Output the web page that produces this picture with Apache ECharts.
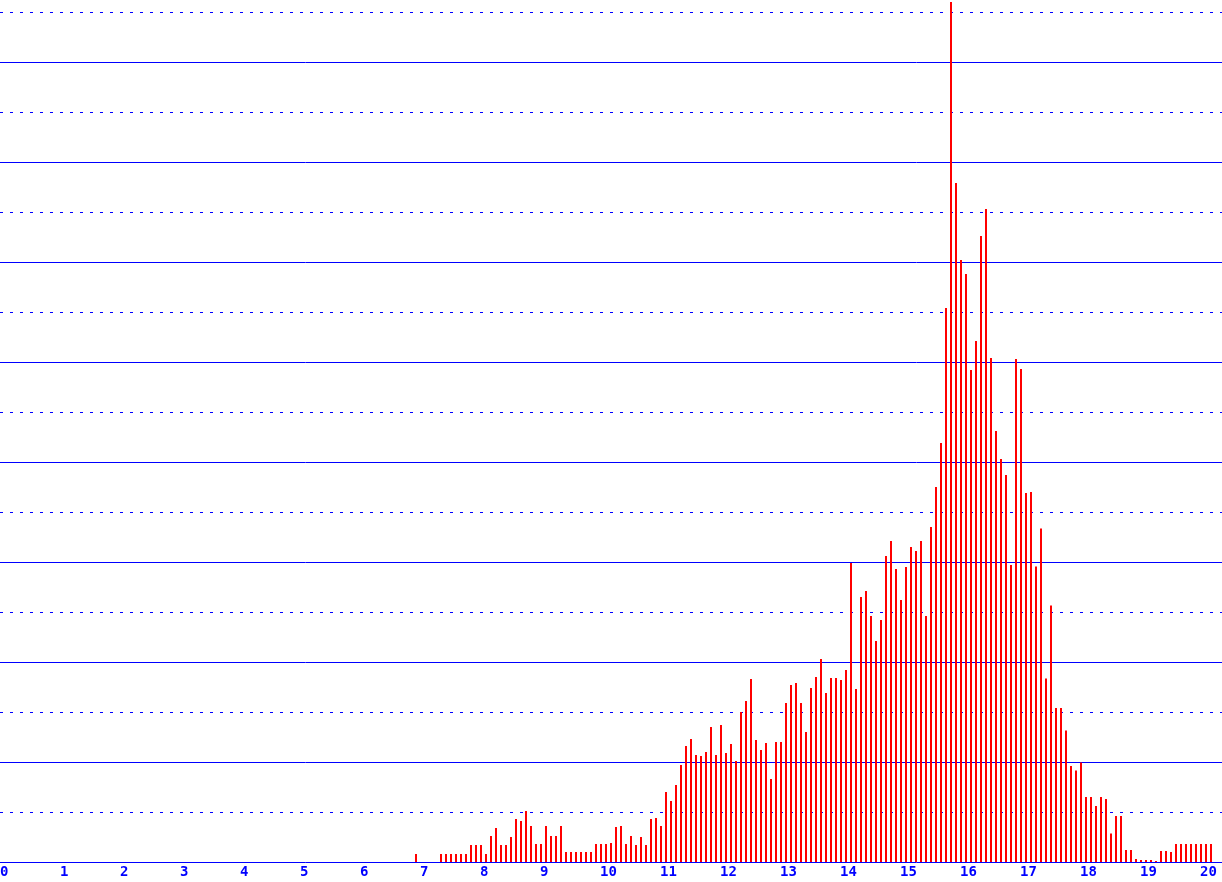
<!DOCTYPE html>
<html>
<head>
<meta charset="utf-8">
<script src="https://cdn.jsdelivr.net/npm/echarts@6/dist/echarts.min.js"></script>
<style>
html,body{margin:0;padding:0;background:#fff;}
#chart{width:1222px;height:882px;}
</style>
</head>
<body>
<div id="chart"></div>
<script>
// Histogram bins: 12 bins per x unit, first non-empty bin index 83
const firstBin = 83;
const binsPerUnit = 12;
const counts = [
  0.16, 0, 0, 0, 0, 0.16, 0.16, 0.16, 0.16, 0.16,
  0.16, 0.34, 0.34, 0.34, 0.16, 0.52, 0.68, 0.34, 0.34, 0.50,
  0.86, 0.82, 1.02, 0.72, 0.36, 0.36, 0.72, 0.52, 0.52, 0.72,
  0.20, 0.20, 0.20, 0.20, 0.20, 0.20, 0.36, 0.36, 0.36, 0.38,
  0.70, 0.72, 0.36, 0.52, 0.34, 0.50, 0.34, 0.86, 0.88, 0.72,
  1.40, 1.22, 1.54, 1.94, 2.32, 2.46, 2.14, 2.12, 2.20, 2.70,
  2.14, 2.74, 2.18, 2.36, 2.02, 3.00, 3.22, 3.66, 2.44, 2.24,
  2.38, 1.66, 2.40, 2.40, 3.18, 3.54, 3.58, 3.18, 2.60, 3.48,
  3.70, 4.06, 3.38, 3.68, 3.68, 3.64, 3.84, 5.98, 3.46, 5.30,
  5.42, 4.92, 4.42, 4.84, 6.12, 6.42, 5.86, 5.24, 5.90, 6.30,
  6.22, 6.42, 4.92, 6.70, 7.50, 8.38, 11.08, 17.20, 13.58, 12.04,
  11.76, 9.84, 10.42, 12.52, 13.06, 10.08, 8.62, 8.06, 7.74, 5.94,
  10.06, 9.86, 7.38, 7.40, 5.91, 6.67, 3.67, 5.13, 3.08, 3.08,
  2.63, 1.92, 1.83, 1.99, 1.30, 1.30, 1.12, 1.30, 1.26, 0.57,
  0.92, 0.92, 0.24, 0.24, 0.06, 0.04, 0.04, 0.04, 0.02, 0.22,
  0.22, 0.20, 0.36, 0.36, 0.36, 0.36, 0.36, 0.36, 0.36, 0.36
];
const xTickLabels = ['0','1','2','3','4','5','6','7','8','9','10','11','12','13','14','15','16','17','18','19','20'];

const barShift = 1 / 60; // one pixel to the right of the bin edge
const seriesData = counts.map((v, i) => [(firstBin + i) / binsPerUnit + barShift, v]);

const chart = echarts.init(document.getElementById('chart'), null, {renderer: 'canvas'});
const blue = '#0000ff';
const yMax = 862 / 50;
chart.setOption({
  animation: false,
  backgroundColor: '#ffffff',
  grid: {left: 0, right: 0, top: 0, bottom: 20, containLabel: false, outerBoundsMode: 'none'},
  xAxis: {
    type: 'value',
    min: 0,
    max: 1222 / 60,
    interval: 1,
    axisLine: {show: true, lineStyle: {color: blue, width: 1}},
    axisTick: {show: false},
    splitLine: {show: false},
    axisLabel: {
      show: true,
      color: blue,
      align: 'left',
      margin: 3,
      fontFamily: 'DejaVu Sans Mono',
      fontWeight: 'bold',
      fontSize: 14,
      showMaxLabel: false,
      formatter: function (v) { const i = Math.round(v); return xTickLabels[i] !== undefined && Math.abs(v - i) < 1e-6 ? xTickLabels[i] : ''; }
    }
  },
  yAxis: [
    {
      type: 'value', min: 0, max: yMax, interval: 1,
      axisLine: {show: false}, axisTick: {show: false}, axisLabel: {show: false},
      splitLine: {show: true, showMinLine: false, showMaxLine: false, lineStyle: {color: blue, width: 1, type: [3, 7]}}
    },
    {
      type: 'value', min: 0, max: yMax, interval: 2,
      axisLine: {show: false}, axisTick: {show: false}, axisLabel: {show: false},
      splitLine: {show: true, showMinLine: false, showMaxLine: false, lineStyle: {color: blue, width: 1, type: 'solid'}}
    }
  ],
  series: [{
    type: 'bar',
    yAxisIndex: 0,
    data: seriesData,
    barWidth: 2,
    itemStyle: {color: '#ff0000'},
    silent: true
  }]
});
</script>
</body>
</html>
